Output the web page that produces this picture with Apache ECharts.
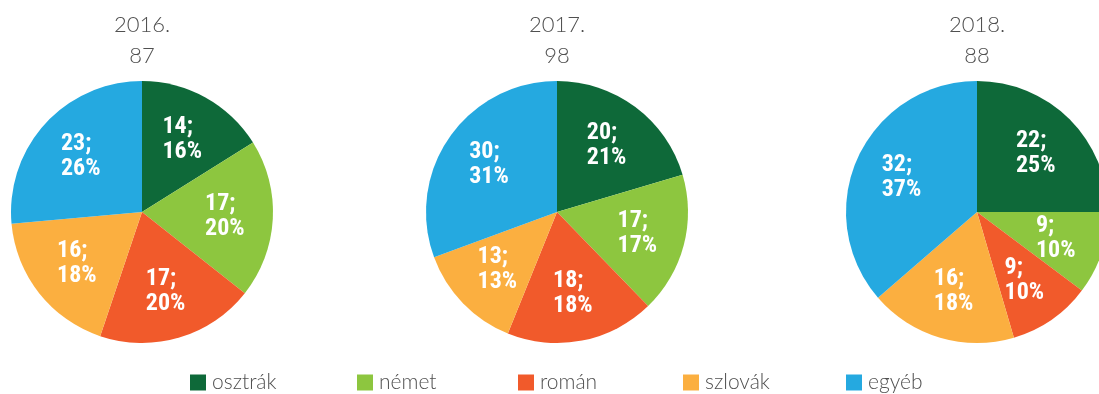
<!DOCTYPE html>
<html>
<head>
<meta charset="utf-8">
<script src="https://cdn.jsdelivr.net/npm/echarts@6/dist/echarts.min.js"></script>
<style>
  html, body { margin: 0; padding: 0; background: #fff; }
  #chart { width: 1099px; height: 394px; }
</style>
</head>
<body>
<div id="chart"></div>
<script>
// Nationality breakdown per year
const categories = ['osztrák', 'német', 'román', 'szlovák', 'egyéb'];
const years = ['2016.', '2017.', '2018.'];
const values2016 = [14, 17, 17, 16, 23];
const values2017 = [20, 17, 18, 13, 30];
const values2018 = [22, 9, 9, 16, 32];
const colors = ['#0e6939', '#8dc63f', '#f15a2b', '#fbaf40', '#25a9e0'];

const yearValues = [values2016, values2017, values2018];
const centersX = [142, 557, 977];
const centerY = 212;
const R = 131;
const legendLeft = [190, 357, 518, 683, 846];

const textFont = 'Lato, "Open Sans", sans-serif';
const labelFont = '"Roboto Condensed", "Open Sans Condensed", sans-serif';

const series = [];
const graphics = [];
yearValues.forEach(function (vals, i) {
  const data = categories.map(function (name, k) {
    return { name: name, value: vals[k], itemStyle: { color: colors[k] } };
  });
  // filled slices
  series.push({
    type: 'pie',
    center: [centersX[i], centerY],
    radius: [0, R],
    startAngle: 90,
    clockwise: true,
    silent: true,
    label: { show: false },
    labelLine: { show: false },
    data: data
  });
  // value; percent labels, placed at ~0.6 of the radius, lines left-aligned
  series.push({
    type: 'pie',
    center: [centersX[i], centerY],
    radius: [29, R],
    startAngle: 90,
    clockwise: true,
    silent: true,
    avoidLabelOverlap: false,
    percentPrecision: 0,
    itemStyle: { color: 'rgba(0,0,0,0)' },
    label: {
      show: true,
      position: 'inside',
      formatter: '{v|{c};}\n{v|{d}%}',
      color: '#ffffff',
      fontFamily: labelFont,
      fontWeight: 'bold',
      fontSize: 24,
      lineHeight: 25,
      rich: {
        v: {
          align: 'left',
          color: '#ffffff',
          fontFamily: labelFont,
          fontWeight: 'bold',
          fontSize: 24,
          lineHeight: 25
        }
      }
    },
    labelLine: { show: false },
    labelLayout: { hideOverlap: false },
    data: categories.map(function (name, k) { return { name: name, value: vals[k] }; })
  });
  const total = vals.reduce(function (a, b) { return a + b; }, 0);
  graphics.push({
    type: 'text',
    x: centersX[i],
    y: 9,
    silent: true,
    style: {
      text: years[i] + '\n' + total,
      fill: '#505050',
      font: '300 22px ' + textFont,
      lineHeight: 31,
      align: 'center',
      verticalAlign: 'top'
    }
  });
});

const legends = categories.map(function (name, k) {
  return {
    data: [name],
    left: legendLeft[k],
    top: 372,
    icon: 'rect',
    itemWidth: 16,
    itemHeight: 16,
    itemGap: 0,
    selectedMode: false,
    padding: 0,
    textStyle: {
      color: '#505050',
      fontFamily: textFont,
      fontWeight: 300,
      fontSize: 21,
      padding: [0, 0, 0, 1]
    }
  };
});

const chart = echarts.init(document.getElementById('chart'), null, { renderer: 'canvas' });
chart.setOption({
  animation: false,
  color: colors,
  legend: legends,
  graphic: graphics,
  series: series
});
</script>
</body>
</html>
